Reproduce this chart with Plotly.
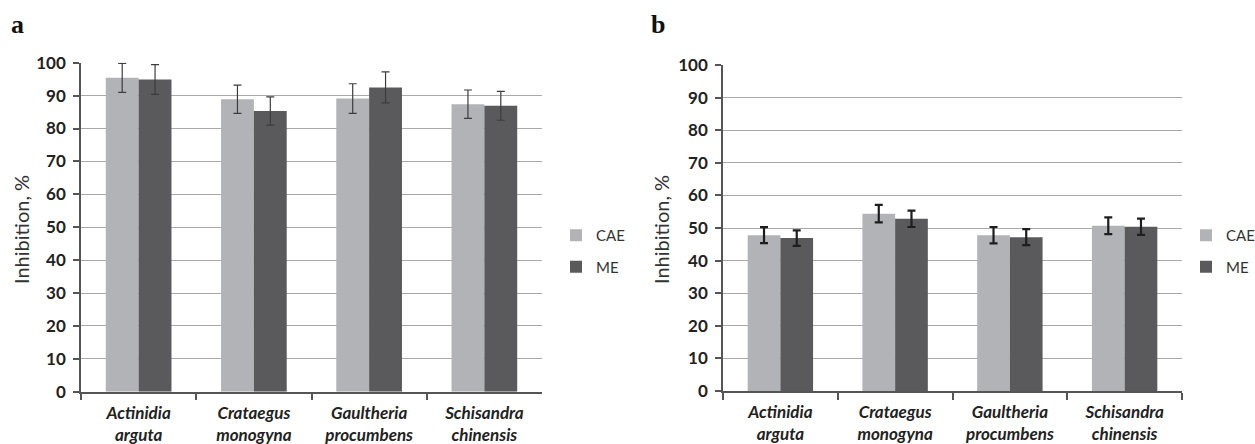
import plotly.graph_objects as go

categories = ["Actinidia<br>arguta", "Crataegus<br>monogyna", "Gaultheria<br>procumbens", "Schisandra<br>chinensis"]

a_cae = [95.4, 88.9, 89.1, 87.4]
a_cae_err = [4.4, 4.3, 4.5, 4.3]
a_me = [94.9, 85.3, 92.5, 86.9]
a_me_err = [4.5, 4.3, 4.7, 4.4]

b_cae = [47.8, 54.4, 47.8, 50.7]
b_cae_err = [2.45, 2.7, 2.5, 2.55]
b_me = [46.9, 52.8, 47.2, 50.4]
b_me_err = [2.4, 2.5, 2.45, 2.5]

y_ticks = [0, 10, 20, 30, 40, 50, 60, 70, 80, 90, 100]

C_CAE = "#b2b3b7"
C_ME = "#5a5a5d"
FONT = "Lato"
W, H = 1255, 444

fig = go.Figure()

def add_bars(vals, errs, name, color, xa, ya, leg, ecol, eth):
    fig.add_trace(go.Bar(
        x=categories, y=vals, name=name, marker=dict(color=color, line=dict(width=0)),
        error_y=dict(type="data", array=errs, visible=True, color=ecol, thickness=eth, width=4),
        xaxis=xa, yaxis=ya, legend=leg, legendgroup=leg + name,
    ))

add_bars(a_cae, a_cae_err, "CAE", C_CAE, "x", "y", "legend", "#3c3c3c", 1.2)
add_bars(a_me, a_me_err, "ME", C_ME, "x", "y", "legend", "#3c3c3c", 1.2)
add_bars(b_cae, b_cae_err, "CAE", C_CAE, "x2", "y2", "legend2", "#1e1e1e", 2.2)
add_bars(b_me, b_me_err, "ME", C_ME, "x2", "y2", "legend2", "#1e1e1e", 2.2)

def px_x(p):
    return p / W

def px_y(p):
    return (H - p) / H

xcommon = dict(
    type="category", showline=True, linecolor="#555555", linewidth=1.5,
    ticks="outside", tickson="boundaries", ticklen=7, tickcolor="#555555", tickwidth=1.5,
    tickfont=dict(family=FONT, size=17, color="#222222", weight="bold", style="italic"),
    ticklabelstandoff=5,
    showgrid=False, fixedrange=True,
)
ycommon = dict(
    range=[0, 100], tickvals=y_ticks, showline=True, linecolor="#555555", linewidth=1.5,
    ticks="outside", ticklen=6, tickcolor="#555555", tickwidth=1.5,
    tickfont=dict(family=FONT, size=17, color="#222222", weight="bold"),
    ticklabelstandoff=4,
    showgrid=True, gridcolor="#a9a9a9", gridwidth=1.2, zeroline=False, fixedrange=True,
)

legcommon = dict(
    xanchor="left", yanchor="top",
    font=dict(family=FONT, size=15, color="#333333"),
    traceorder="grouped", tracegroupgap=9, itemwidth=30, bgcolor="rgba(0,0,0,0)",
)

fig.update_layout(
    width=W, height=H, margin=dict(l=0, r=0, t=0, b=0, autoexpand=False),
    paper_bgcolor="white", plot_bgcolor="white",
    barmode="group", bargap=0.43, bargroupgap=0.0,
    xaxis=dict(**xcommon, domain=[px_x(81), px_x(542)], anchor="y"),
    yaxis=dict(**ycommon, domain=[px_y(391.7), px_y(62.7)], anchor="x"),
    xaxis2=dict(**xcommon, domain=[px_x(723), px_x(1182)], anchor="y2"),
    yaxis2=dict(**ycommon, domain=[px_y(391), px_y(65)], anchor="x2"),
    legend=dict(**legcommon, x=px_x(556), y=px_y(219)),
    legend2=dict(**legcommon, x=px_x(1186), y=px_y(219)),
    showlegend=True,
)

annots = [
    dict(text="a", x=px_x(9), y=px_y(25), xanchor="left", yanchor="middle",
         font=dict(family="Liberation Serif", size=26, color="#111111", weight="bold")),
    dict(text="b", x=px_x(649), y=px_y(24), xanchor="left", yanchor="middle",
         font=dict(family="Liberation Serif", size=26, color="#111111", weight="bold")),
    dict(text="Inhibition, %", x=px_x(21), y=px_y(230), textangle=-90, xanchor="center", yanchor="middle",
         font=dict(family=FONT, size=20, color="#333333")),
    dict(text="Inhibition, %", x=px_x(661), y=px_y(230), textangle=-90, xanchor="center", yanchor="middle",
         font=dict(family=FONT, size=20, color="#333333")),
]
for a in annots:
    a.update(xref="paper", yref="paper", showarrow=False)
fig.update_layout(annotations=annots)

fig.write_html(
    "out.html",
    config={"displayModeBar": False},
    post_script="document.body.style.margin='0';document.body.style.padding='0';document.body.style.overflow='hidden';",
)
